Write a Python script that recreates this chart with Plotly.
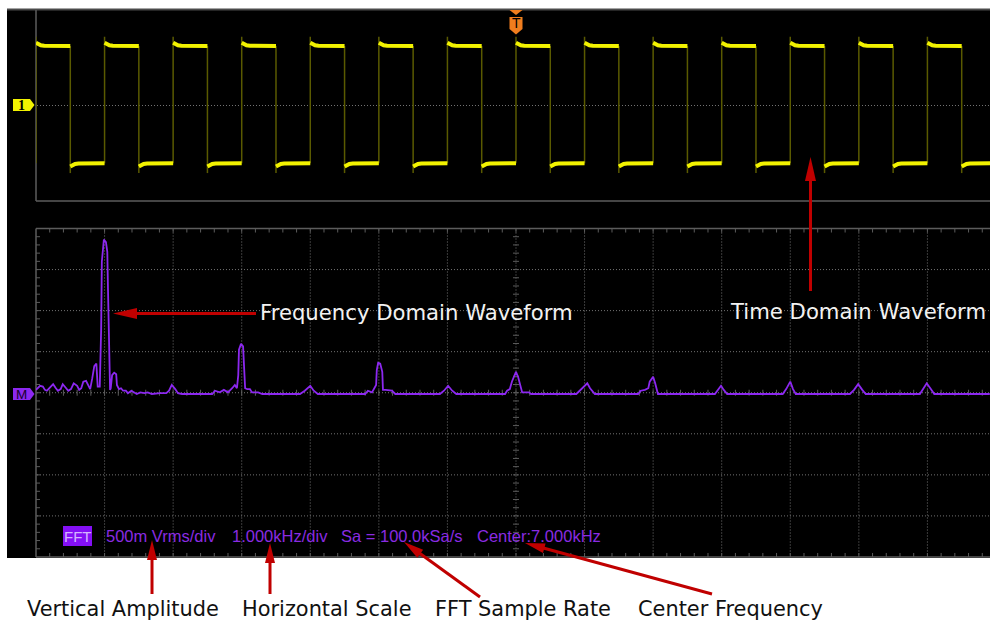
import plotly.graph_objects as go

W, H = 990, 625

# ---------------- data ----------------
# time-domain square wave: rising edges (ms) and one period's levels read from the screen
rise_times_ms = [-8, -7, -6, -5, -4, -3, -2, -1, 0, 1, 2, 3, 4, 5, 6]
hi_t = [0.0, 0.03, 0.07, 0.12, 0.5]
hi_v = [2.63, 2.56, 2.52, 2.50, 2.49]
lo_t = [0.5, 0.53, 0.57, 0.62, 1.0]
lo_v = [-2.56, -2.50, -2.45, -2.43, -2.42]
rise_overshoot_v = 2.88
fall_undershoot_v = -2.83

# FFT spectrum (kHz, Vrms)
fft_khz = [
    0.00, 0.03, 0.06, 0.10, 0.13, 0.16, 0.20, 0.25, 0.29, 0.32,
    0.36, 0.39, 0.44, 0.47, 0.51, 0.55, 0.60, 0.63, 0.66, 0.69,
    0.73, 0.76, 0.79, 0.82, 0.85, 0.88, 0.89, 0.90, 0.93, 0.95,
    0.96, 0.98, 0.99, 1.02, 1.04, 1.05, 1.06, 1.08, 1.09, 1.11,
    1.14, 1.17, 1.18, 1.21, 1.24, 1.27, 1.31, 1.34, 1.39, 1.43,
    1.47, 1.52, 1.58, 1.63, 1.69, 1.81, 1.90, 1.94, 1.98, 2.03,
    2.07, 2.13, 2.57, 2.61, 2.68, 2.74, 2.80, 2.86, 2.90, 2.93,
    2.95, 2.96, 2.99, 3.02, 3.03, 3.05, 3.08, 3.12, 3.15, 3.24,
    3.30, 3.85, 3.92, 4.00, 4.05, 4.11, 4.80, 4.84, 4.90, 4.93,
    4.96, 4.97, 4.99, 5.02, 5.05, 5.06, 5.10, 5.19, 5.24, 5.89,
    5.95, 6.01, 6.07, 6.13, 6.84, 6.87, 6.91, 6.94, 6.97, 7.00,
    7.03, 7.06, 7.09, 7.19, 7.22, 7.88, 7.93, 7.99, 8.04, 8.08,
    8.15, 8.78, 8.82, 8.88, 8.93, 8.95, 9.00, 9.03, 9.07, 9.90,
    9.95, 9.99, 10.03, 10.08, 10.89, 10.94, 11.00, 11.04, 11.08, 11.87,
    11.93, 11.99, 12.05, 12.10, 12.89, 12.94, 12.99, 13.05, 13.10, 13.91,
]
fft_vrms = [
    0.05, 0.07, 0.10, 0.09, 0.05, 0.04, 0.07, 0.12, 0.07, 0.04,
    0.06, 0.12, 0.07, 0.04, 0.06, 0.13, 0.10, 0.05, 0.07, 0.15,
    0.16, 0.10, 0.06, 0.19, 0.34, 0.37, 0.27, 0.09, 0.09, 0.78,
    1.61, 1.78, 1.88, 1.85, 1.73, 1.27, 0.66, 0.05, 0.07, 0.23,
    0.26, 0.24, 0.11, 0.06, 0.07, 0.04, 0.04, 0.01, 0.04, 0.02,
    0.00, 0.02, 0.01, 0.02, 0.00, 0.01, 0.01, 0.04, 0.11, 0.06,
    0.01, 0.00, 0.00, 0.04, 0.02, 0.05, 0.02, 0.07, 0.11, 0.07,
    0.23, 0.54, 0.61, 0.58, 0.41, 0.07, 0.06, 0.06, 0.02, 0.02,
    0.00, 0.00, 0.04, 0.10, 0.04, 0.00, 0.00, 0.04, 0.02, 0.06,
    0.11, 0.29, 0.38, 0.37, 0.27, 0.05, 0.05, 0.04, 0.00, 0.00,
    0.04, 0.10, 0.04, 0.00, 0.00, 0.04, 0.06, 0.15, 0.22, 0.27,
    0.21, 0.12, 0.02, 0.02, 0.00, 0.00, 0.04, 0.09, 0.13, 0.07,
    0.00, 0.00, 0.04, 0.05, 0.07, 0.15, 0.21, 0.13, 0.00, 0.00,
    0.05, 0.10, 0.05, 0.00, 0.00, 0.06, 0.15, 0.06, 0.00, 0.00,
    0.05, 0.12, 0.05, 0.00, 0.00, 0.06, 0.13, 0.06, 0.00, 0.00,
]
assert len(fft_khz) == len(fft_vrms)

info_labels = ["500m Vrms/div", "1.000kHz/div", "Sa = 100.0kSa/s", "Center:7.000kHz"]
callout_labels = ["Vertical Amplitude", "Horizontal Scale", "FFT Sample Rate", "Center Frequency"]
screen_labels = ["Frequency Domain Waveform", "Time Domain Waveform"]

# ---------------- layout helpers (pixel -> paper) ----------------
def px(x):
    return x / W

def py(y):
    return 1 - y / H

def seg_path(segs):
    return " ".join(f"M{px(a):.5f},{py(b):.5f} L{px(c):.5f},{py(d):.5f}" for a, b, c, d in segs)

def poly_path(pts):
    s = "M" + " L".join(f"{px(a):.5f},{py(b):.5f}" for a, b in pts)
    return s + " Z"

shapes = []

def add_path(path, color, width=1.0, dash="solid", fill=None):
    d = dict(type="path", xref="paper", yref="paper", path=path, layer="below",
             line=dict(color=color, width=width, dash=dash))
    if fill:
        d["fillcolor"] = fill
        d["line"] = dict(width=0, color=fill)
    shapes.append(d)

BLACK = "#000000"
GRID = "#747474"
BORDER = "#5c5c5c"
PURPLE = "#8c28f0"
YELLOW = "#f2f200"
RED = "#c00000"
DOT = "1px,2px"

# screen background
add_path(poly_path([(7, 9), (990, 9), (990, 558), (7, 558)]), None, fill=BLACK)
add_path(seg_path([(7, 9.5, 990, 9.5)]), "#4a4a4a", 2)

# top (time-domain) window
add_path(seg_path([(36, 10, 36, 201), (36, 201, 990, 201)]), BORDER, 1.5)
add_path(seg_path([(37, 105.5, 990, 105.5)]), GRID, 1, DOT)

# FFT window
FX0, FY0, DX, DY = 36.0, 228.5, 68.57, 41.06
FY1 = FY0 + 8 * DY
add_path(seg_path([(FX0, FY0, FX0, FY1), (FX0, FY0, 990, FY0), (FX0, FY1, 990, FY1)]), BORDER, 1.5)
vgrid = [(FX0 + k * DX, FY0 + 1, FX0 + k * DX, FY1 - 1) for k in range(1, 14)]
hgrid = [(FX0 + 1, FY0 + j * DY, 990, FY0 + j * DY) for j in range(1, 8)]
add_path(seg_path(vgrid + hgrid), GRID, 1, DOT)
ticks = []
cx = FX0 + 7 * DX
cy = FY0 + 4 * DY
for i in range(1, 70):
    x = FX0 + i * DX / 5
    if x > 990:
        break
    ticks.append((x, FY0, x, FY0 + 4))
    ticks.append((x, FY1 - 4, x, FY1))
    ticks.append((x, cy - 3, x, cy + 3))
for i in range(1, 40):
    y = FY0 + i * DY / 5
    ticks.append((FX0, y, FX0 + 4, y))
    ticks.append((cx - 3, y, cx + 3, y))
add_path(seg_path(ticks), BORDER, 1)

# channel / math / trigger markers
add_path(poly_path([(13, 99), (30, 99), (34.5, 105), (30, 111), (13, 111)]), None, fill=YELLOW)
add_path(poly_path([(13, 388), (30, 388), (34.5, 394), (30, 400), (13, 400)]), None, fill=PURPLE)
add_path(poly_path([(509.5, 10), (522.5, 10), (516, 15)]), None, fill="#f07d1e")
add_path(poly_path([(509.5, 17), (522.5, 17), (522.5, 29), (516, 34.5), (509.5, 29)]), None, fill="#f07d1e")
# FFT label box
add_path(poly_path([(63, 526), (92, 526), (92, 546), (63, 546)]), None, fill="#8410f5")

# red callout arrows
def arrow(x0, y0, x1, y1, L=24, hw=5.5, lw=3):
    dx, dy = x1 - x0, y1 - y0
    n = (dx * dx + dy * dy) ** 0.5
    ux, uy = dx / n, dy / n
    bx, by = x1 - L * ux, y1 - L * uy
    nx, ny = -uy, ux
    add_path(seg_path([(x0, y0, bx + 2 * ux, by + 2 * uy)]), RED, lw)
    add_path(poly_path([(x1, y1), (bx + hw * nx, by + hw * ny), (bx - hw * nx, by - hw * ny)]), None, fill=RED)

arrow(256, 313.5, 113, 313.5)
arrow(810.5, 291, 810.5, 157)
arrow(152, 594, 152, 540, L=20, hw=5)
arrow(270, 594, 270, 543, L=20, hw=5)
arrow(480, 597, 404, 542, L=20, hw=5)
arrow(712, 594, 525, 543, L=20, hw=5)

# ---------------- traces ----------------
edge_x, edge_y, seg_x, seg_y = [], [], [], []
for k in rise_times_ms:
    edge_x += [k, k, None, k + 0.5, k + 0.5, None]
    edge_y += [lo_v[-1], rise_overshoot_v, None, hi_v[-1], fall_undershoot_v, None]
    seg_x += [k + t for t in hi_t] + [None] + [k + t for t in lo_t] + [None]
    seg_y += hi_v + [None] + lo_v + [None]

fig = go.Figure()
fig.add_trace(go.Scatter(x=edge_x, y=edge_y, mode="lines", xaxis="x", yaxis="y",
                         line=dict(color="#5a5a00", width=1.5), hoverinfo="skip"))
fig.add_trace(go.Scatter(x=seg_x, y=seg_y, mode="lines", xaxis="x", yaxis="y",
                         line=dict(color=YELLOW, width=4), hoverinfo="skip"))
fig.add_trace(go.Scatter(x=fft_khz, y=fft_vrms, mode="lines", xaxis="x2", yaxis="y2",
                         line=dict(color=PURPLE, width=1.8), hoverinfo="skip"))

# ---------------- annotations ----------------
ann = []
def text(x, y, s, size, color, family="DejaVu Sans", xanchor="left"):
    ann.append(dict(x=px(x), y=py(y), xref="paper", yref="paper", text=s, showarrow=False,
                    xanchor=xanchor, yanchor="middle", borderpad=0,
                    font=dict(family=family, size=size, color=color)))

text(259, 312, screen_labels[0], 21.2, "#f2f2f2")
text(729, 311, screen_labels[1], 21.2, "#f2f2f2")
for s, x in zip(callout_labels, [26, 241, 434, 637]):
    text(x, 609, s, 20.9, "#111111")
for s, x in zip(info_labels, [105, 231, 340, 476]):
    text(x, 536, s, 16.5, "#8a2be2", family="Liberation Sans")
text(77.5, 536, "FFT", 15, "#d4b4ff", family="Liberation Sans", xanchor="center")
text(21.5, 105, "<b>1</b>", 14, "#000000", family="Liberation Serif", xanchor="center")
text(21.5, 394, "M", 13.5, "#1a0030", family="Liberation Sans", xanchor="center")
text(516, 23, "T", 14, "#000000", family="Liberation Sans", xanchor="center")

ax_common = dict(visible=False, showgrid=False, zeroline=False, fixedrange=True)
fig.update_layout(
    width=W, height=H, margin=dict(l=0, r=0, t=0, b=0),
    paper_bgcolor="#ffffff", plot_bgcolor="rgba(0,0,0,0)", showlegend=False,
    xaxis=dict(domain=[px(36), 1], range=[-7, -7 + (990 - 36) / DX], anchor="y", **ax_common),
    yaxis=dict(domain=[py(201), py(10)], range=[-4, 4], anchor="x", **ax_common),
    xaxis2=dict(domain=[px(36), 1], range=[0, (990 - 36) / DX], anchor="y2", **ax_common),
    yaxis2=dict(domain=[py(FY1), py(FY0)], range=[-(FY1 - 394) * 0.5 / DY, (394 - FY0) * 0.5 / DY],
                anchor="x2", **ax_common),
    shapes=shapes, annotations=ann,
)
fig.write_html("out.html", config={"displayModeBar": False},
               post_script="document.body.style.margin='0px';document.body.style.overflow='hidden';")
